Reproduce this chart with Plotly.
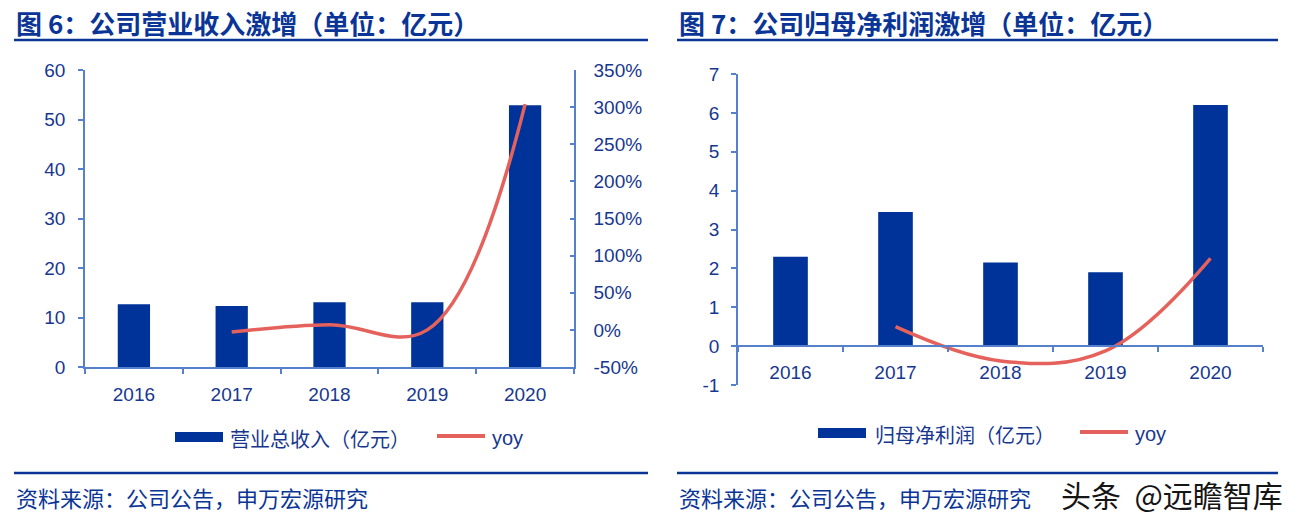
import plotly.graph_objects as go

W, H = 1300, 524

# ---- data ----
years = ["2016", "2017", "2018", "2019", "2020"]
revenue = [12.7, 12.3, 13.1, 13.1, 52.9]          # 营业总收入（亿元）
revenue_yoy_years = ["2017", "2018", "2019", "2020"]
revenue_yoy = [-3, 7, 0, 304]                      # %
profit = [2.3, 3.45, 2.15, 1.9, 6.2]               # 归母净利润（亿元）
profit_yoy_years = ["2017", "2018", "2019", "2020"]
profit_yoy = [0.50, -0.38, -0.12, 2.26]            # ratio, drawn on left scale

rev_ticks = [0, 10, 20, 30, 40, 50, 60]
rev_tick_text = ["0", "10", "20", "30", "40", "50", "60"]
yoy_ticks = [-50, 0, 50, 100, 150, 200, 250, 300, 350]
yoy_tick_text = ["-50%", "0%", "50%", "100%", "150%", "200%", "250%", "300%", "350%"]
profit_ticks = [-1, 0, 1, 2, 3, 4, 5, 6, 7]
profit_tick_text = ["-1", "0", "1", "2", "3", "4", "5", "6", "7"]

title_left = "图 6：公司营业收入激增（单位：亿元）"
title_right = "图 7：公司归母净利润激增（单位：亿元）"
legend_left = ["营业总收入（亿元）", "yoy"]
legend_right = ["归母净利润（亿元）", "yoy"]
source_text = "资料来源：公司公告，申万宏源研究"
watermark = "头条  @远瞻智库"

# ---- styles ----
BAR = "#003399"
LINE = "#E5625C"
AXIS = "#5580cc"
TXT = "#17378f"
TITLE = "#0a3596"
NUM_FONT = "Liberation Sans, Arial, sans-serif"
CJK_FONT = "Noto Sans CJK SC, sans-serif"


def px(x):
    return x / W


def py(y):
    return 1 - y / H


fig = go.Figure()
fig.add_trace(go.Bar(x=years, y=revenue, marker_color=BAR, xaxis="x", yaxis="y",
                     name=legend_left[0], showlegend=False))
fig.add_trace(go.Scatter(x=revenue_yoy_years, y=revenue_yoy, mode="lines",
                         line=dict(color=LINE, width=3.5, shape="spline", smoothing=1.1),
                         xaxis="x", yaxis="y2", name=legend_left[1], showlegend=False))
fig.add_trace(go.Bar(x=years, y=profit, marker_color=BAR, xaxis="x2", yaxis="y3",
                     name=legend_right[0], showlegend=False))
fig.add_trace(go.Scatter(x=profit_yoy_years, y=profit_yoy, mode="lines",
                         line=dict(color=LINE, width=3.5, shape="spline", smoothing=1.1),
                         xaxis="x2", yaxis="y3", name=legend_right[1], showlegend=False))

tickfont = dict(family=NUM_FONT, size=19, color=TXT)
common_axis = dict(showline=True, linecolor=AXIS, linewidth=1.5, showgrid=False,
                   zeroline=False, tickcolor=AXIS, tickwidth=1.5, tickfont=tickfont,
                   automargin=False)

left_dom_y = [py(367), py(70)]
right_dom_y = [py(385), py(74)]

fig.update_layout(
    template="none",
    width=W, height=H,
    autosize=False,
    margin=dict(l=0, r=0, t=0, b=0, pad=0),
    paper_bgcolor="white", plot_bgcolor="white",
    showlegend=False,
    bargap=0.67,
    xaxis=dict(domain=[px(85), px(574)], anchor="y", type="category",
               categoryorder="array", categoryarray=years, range=[-0.5, 4.5],
               ticks="outside", tickson="boundaries", ticklen=5,
               ticklabelstandoff=9, **common_axis),
    yaxis=dict(domain=left_dom_y, anchor="x", range=[0, 60],
               tickmode="array", tickvals=rev_ticks, ticktext=rev_tick_text,
               ticks="outside", ticklen=5, ticklabelstandoff=9, **common_axis),
    yaxis2=dict(overlaying="y", side="right", anchor="x", range=[-50, 350],
                tickmode="array", tickvals=yoy_ticks, ticktext=yoy_tick_text,
                ticks="inside", ticklen=4, ticklabelstandoff=14,
                **common_axis),
    xaxis2=dict(domain=[px(738), px(1263)], anchor="free", position=py(346),
                type="category", categoryorder="array", categoryarray=years,
                range=[-0.5, 4.5], ticks="outside", tickson="boundaries", ticklen=5,
                ticklabelstandoff=9, **common_axis),
    yaxis3=dict(domain=right_dom_y, anchor="x2", range=[-1, 7],
                tickmode="array", tickvals=profit_ticks, ticktext=profit_tick_text,
                ticks="outside", ticklen=5, ticklabelstandoff=8, **common_axis),
)

shapes = []
annotations = []

# title underlines and footer lines
for x0, x1 in [(14, 648), (677, 1278)]:
    shapes.append(dict(type="line", xref="paper", yref="paper", x0=px(x0), x1=px(x1),
                       y0=py(40), y1=py(40), line=dict(color=TITLE, width=2.5)))
    shapes.append(dict(type="line", xref="paper", yref="paper", x0=px(x0), x1=px(x1),
                       y0=py(473), y1=py(473), line=dict(color=TITLE, width=2.5)))

# titles
for x0, t in [(14, title_left), (677, title_right)]:
    annotations.append(dict(text="<b>" + t + "</b>", xref="paper", yref="paper",
                            x=px(x0), y=py(23), xanchor="left", yanchor="middle",
                            showarrow=False, font=dict(family=CJK_FONT, size=26, color=TITLE)))

# footers
for x0 in [14, 677]:
    annotations.append(dict(text=source_text, xref="paper", yref="paper",
                            x=px(x0), y=py(497), xanchor="left", yanchor="middle",
                            showarrow=False, font=dict(family=CJK_FONT, size=22, color=TITLE)))

annotations.append(dict(text=watermark, xref="paper", yref="paper",
                        x=px(1285), y=py(494), xanchor="right", yanchor="middle",
                        showarrow=False, font=dict(family=CJK_FONT, size=30, color="#151515")))

# custom legends
for (rx0, ry, tx, lx0, yx, labels) in [
    (175, 437, 228, 437, 490, legend_left),
    (818, 433, 873, 1080, 1133, legend_right),
]:
    shapes.append(dict(type="rect", xref="paper", yref="paper", x0=px(rx0), x1=px(rx0 + 48),
                       y0=py(ry + 5), y1=py(ry - 5), fillcolor=BAR, line=dict(width=0)))
    annotations.append(dict(text=labels[0], xref="paper", yref="paper", x=px(tx), y=py(ry + 1),
                            xanchor="left", yanchor="middle", showarrow=False,
                            font=dict(family=CJK_FONT, size=20, color=TXT)))
    shapes.append(dict(type="line", xref="paper", yref="paper", x0=px(lx0), x1=px(lx0 + 48),
                       y0=py(ry - 1), y1=py(ry - 1), line=dict(color=LINE, width=4)))
    annotations.append(dict(text=labels[1], xref="paper", yref="paper", x=px(yx), y=py(ry + 1),
                            xanchor="left", yanchor="middle", showarrow=False,
                            font=dict(family=NUM_FONT, size=20, color=TXT)))

fig.update_layout(shapes=shapes, annotations=annotations)
fig.write_html("out.html",
               config={"displayModeBar": False},
               post_script="document.body.style.margin='0';document.body.style.overflow='hidden';")
